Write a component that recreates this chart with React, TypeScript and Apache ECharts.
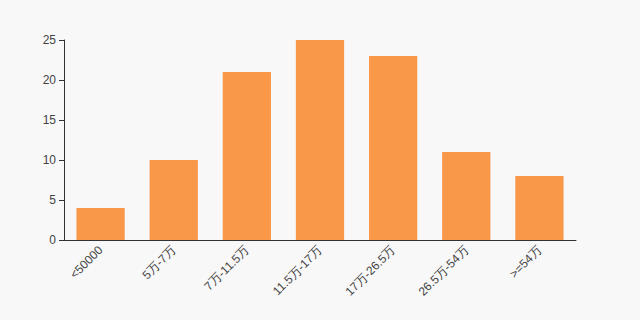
import React, { useEffect, useRef } from "react";
import * as echarts from "echarts";

const categories = ["<50000", "5万-7万", "7万-11.5万", "11.5万-17万", "17万-26.5万", "26.5万-54万", ">=54万"];
const values = [4, 10, 21, 25, 23, 11, 8];

export default function App() {
  const ref = useRef<HTMLDivElement>(null);
  useEffect(() => {
    document.body.style.margin = "0";
    const chart = echarts.init(ref.current!, null, { renderer: "svg" });
    chart.setOption({
      animation: false,
      backgroundColor: "#f8f8f8",
      grid: { left: 64, right: 64, top: 40, bottom: 80 },
      xAxis: {
        type: "category",
        data: categories,
        axisLine: { lineStyle: { color: "#333" } },
        axisTick: { alignWithLabel: false, lineStyle: { color: "#333" } },
        axisLabel: { rotate: 45, color: "#444", fontSize: 12, fontFamily: "sans-serif", interval: 0 },
      },
      yAxis: {
        type: "value",
        min: 0,
        max: 25,
        interval: 5,
        splitLine: { show: false },
        axisLine: { show: true, lineStyle: { color: "#333" } },
        axisTick: { show: true, lineStyle: { color: "#333" } },
        axisLabel: { color: "#444", fontSize: 12, fontFamily: "sans-serif" },
      },
      series: [
        {
          type: "bar",
          data: values,
          barCategoryGap: "34%",
          itemStyle: { color: "#f89848" },
        },
      ],
    });
    return () => chart.dispose();
  }, []);
  return <div ref={ref} style={{ width: 640, height: 320 }} />;
}
